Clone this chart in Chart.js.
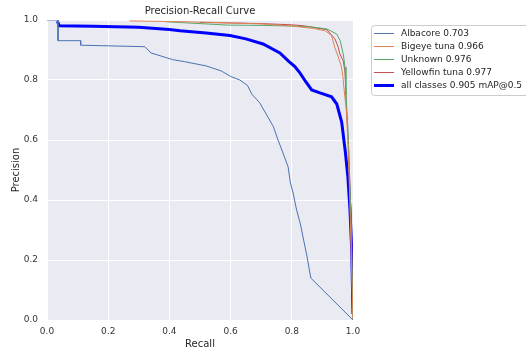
<!DOCTYPE html>
<html>
<head>
<meta charset="utf-8">
<script src="https://cdn.jsdelivr.net/npm/chart.js@4/dist/chart.umd.min.js"></script>
<style>
  html, body { margin: 0; padding: 0; background: #fff; }
  #wrap { width: 526px; height: 353px; }
</style>
</head>
<body>
<div id="wrap"><canvas id="pr"></canvas></div>
<script>
// series labels
const classNames = ['Albacore 0.703', 'Bigeye tuna 0.966', 'Unknown 0.976', 'Yellowfin tuna 0.977', 'all classes 0.905 mAP@0.5']
const classColors = ['#4c72b0', '#dd8452', '#55a868', '#c44e52', '#0000ff']
const tickValues = [0, 0.2, 0.4, 0.6, 0.8, 1.0]

// recall / precision
const albacoreRecall = [0, 0.036, 0.036, 0.11, 0.11, 0.32, 0.34, 0.36, 0.41, 0.45, 0.52, 0.57, 0.6, 0.63, 0.655, 0.67, 0.695, 0.72, 0.74, 0.755, 0.77, 0.788, 0.795, 0.805, 0.815, 0.828, 0.84, 0.85, 0.862, 1.0]
const albacorePrecision = [1.0, 1.0, 0.931, 0.931, 0.916, 0.911, 0.89, 0.884, 0.868, 0.861, 0.847, 0.83, 0.812, 0.8, 0.782, 0.752, 0.724, 0.68, 0.644, 0.6, 0.56, 0.51, 0.46, 0.42, 0.37, 0.32, 0.26, 0.21, 0.14, 0.0]

const bigeyeRecall = [0.27, 0.40, 0.55, 0.70, 0.80, 0.87, 0.91, 0.93, 0.94, 0.952, 0.962, 0.967, 0.971, 0.978, 0.983, 0.988, 1.0]
const bigeyePrecision = [0.997, 0.995, 0.992, 0.987, 0.98, 0.972, 0.964, 0.948, 0.91, 0.877, 0.845, 0.811, 0.767, 0.70, 0.60, 0.45, 0.0]

const unknownRecall = [0.39, 0.50, 0.59, 0.70, 0.80, 0.87, 0.915, 0.947, 0.958, 0.968, 0.974, 0.977, 0.983, 0.988, 0.993, 1.0]
const unknownPrecision = [0.994, 0.988, 0.983, 0.982, 0.98, 0.976, 0.97, 0.953, 0.931, 0.887, 0.843, 0.75, 0.644, 0.5, 0.35, 0.0]

const yellowfinRecall = [0.50, 0.60, 0.70, 0.80, 0.837, 0.914, 0.941, 0.952, 0.957, 0.968, 0.974, 0.979, 0.985, 0.99, 0.995, 1.0]
const yellowfinPrecision = [0.992, 0.99, 0.988, 0.984, 0.981, 0.968, 0.937, 0.909, 0.887, 0.864, 0.826, 0.70, 0.59, 0.45, 0.3, 0.0]

const allRecall = [0.034, 0.04, 0.15, 0.30, 0.40, 0.435, 0.52, 0.598, 0.65, 0.706, 0.761, 0.79, 0.81, 0.827, 0.845, 0.865, 0.892, 0.93, 0.947, 0.963, 0.975, 0.983, 0.99, 0.996, 1.0]
const allPrecision = [0.996, 0.981, 0.979, 0.976, 0.968, 0.964, 0.957, 0.948, 0.937, 0.92, 0.89, 0.862, 0.845, 0.823, 0.795, 0.767, 0.757, 0.744, 0.72, 0.66, 0.56, 0.48, 0.37, 0.23, 0.02]

const FONT = 'DejaVu Sans'

function toPoints(rx, py) {
    return rx.map((r, i) => ({ x: r, y: py[i] }))
}

const seriesData = [
    toPoints(albacoreRecall, albacorePrecision),
    toPoints(bigeyeRecall, bigeyePrecision),
    toPoints(unknownRecall, unknownPrecision),
    toPoints(yellowfinRecall, yellowfinPrecision),
    toPoints(allRecall, allPrecision),
]

const datasets = seriesData.map((pts, i) => ({
    label: classNames[i],
    data: pts,
    borderColor: classColors[i],
    borderWidth: i === 4 ? 3 : 1,
    pointRadius: 0,
    tension: 0,
    fill: false,
}))

// seaborn-ish frame: grey plot background, title and the boxed legend
const frame = {
    id: 'frame',
    beforeDraw(chart) {
        const { ctx, chartArea: a } = chart
        ctx.save()
        ctx.fillStyle = '#eaeaf2'
        ctx.fillRect(a.left, a.top, a.right - a.left, a.bottom - a.top)
        ctx.restore()
    },
    afterDraw(chart) {
        const { ctx, chartArea: a } = chart
        ctx.save()
        ctx.fillStyle = '#262626'
        ctx.font = '10px "' + FONT + '"'
        ctx.textAlign = 'center'
        ctx.textBaseline = 'middle'
        ctx.fillText('Precision-Recall Curve', (a.left + a.right) / 2, 11)

        // legend
        const bx = 371, by = 25, bw = 160, bh = 70
        ctx.fillStyle = 'rgba(255,255,255,0.85)'
        ctx.strokeStyle = '#cccccc'
        ctx.lineWidth = 1
        ctx.beginPath()
        ctx.roundRect(bx + 0.5, by + 0.5, bw, bh, 3)
        ctx.fill()
        ctx.stroke()

        ctx.font = '9px "' + FONT + '"'
        ctx.textAlign = 'left'
        chart.data.datasets.forEach((ds, i) => {
            const y = 33.5 + i * 13
            ctx.strokeStyle = ds.borderColor
            ctx.lineWidth = ds.borderWidth
            ctx.beginPath()
            ctx.moveTo(374, y)
            ctx.lineTo(394, y)
            ctx.stroke()
            ctx.fillStyle = '#262626'
            ctx.fillText(ds.label, 401, y)
        })
        ctx.restore()
    }
}

new Chart(document.getElementById('pr'), {
    type: 'line',
    data: { datasets: datasets },
    options: {
        responsive: true,
        maintainAspectRatio: false,
        animation: false,
        layout: { padding: { top: 20, right: 173, left: 0, bottom: 0 } },
        plugins: {
            legend: { display: false },
            title: { display: false },
            tooltip: { enabled: false },
        },
        scales: {
            x: {
                type: 'linear',
                min: 0,
                max: 1,
                afterFit: (s) => { s.height = 33 },
                afterBuildTicks: (s) => { s.ticks = tickValues.map(v => ({ value: v })) },
                grid: { color: '#ffffff', lineWidth: 1, drawTicks: false },
                border: { display: false },
                ticks: {
                    padding: 6,
                    color: '#333333',
                    font: { family: FONT, size: 9 },
                    callback: (v) => Number(v).toFixed(1),
                    maxRotation: 0,
                },
                title: {
                    display: true,
                    text: 'Recall',
                    color: '#262626',
                    font: { family: FONT, size: 10 },
                    padding: { top: 0, bottom: 3 },
                },
            },
            y: {
                type: 'linear',
                min: 0,
                max: 1,
                afterFit: (s) => { s.width = 47 },
                afterBuildTicks: (s) => { s.ticks = tickValues.map(v => ({ value: v })) },
                grid: { color: '#ffffff', lineWidth: 1, drawTicks: false },
                border: { display: false },
                ticks: {
                    padding: 9,
                    color: '#333333',
                    font: { family: FONT, size: 9 },
                    callback: (v) => Number(v).toFixed(1),
                },
                title: {
                    display: true,
                    text: 'Precision',
                    color: '#262626',
                    font: { family: FONT, size: 10 },
                    padding: { top: 10, bottom: 0 },
                },
            },
        },
    },
    plugins: [frame],
})
</script>
</body>
</html>
